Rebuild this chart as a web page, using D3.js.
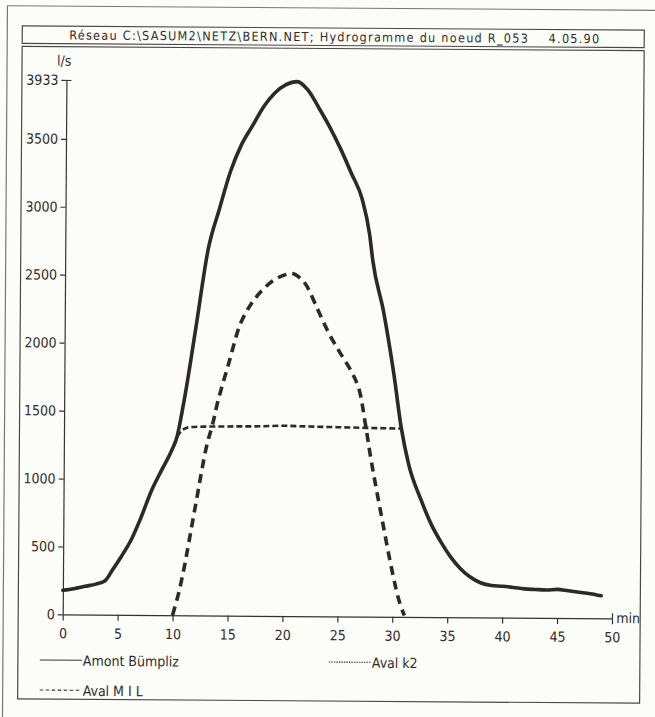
<!DOCTYPE html>
<html>
<head>
<meta charset="utf-8">
<script src="https://cdn.jsdelivr.net/npm/d3@7"></script>
<style>
  html, body { margin: 0; padding: 0; background: #fcfcf9; }
  svg { display: block; }
  text { font-family: "DejaVu Sans Condensed", "DejaVu Sans", sans-serif; fill: #2f2d2b; }
</style>
</head>
<body>
<svg id="chart"></svg>
<script>
// hydrogramme, values (minutes, l/s)
const amontBumpliz = [
  [0,178],[1,190],[2,208],[3,225],[3.8,248],[4.5,330],[5.3,430],[6.2,555],[7.1,725],
  [8,915],[8.9,1065],[9.8,1210],[10.3,1315],[10.7,1480],[11,1620],[12,2150],[13,2690],
  [14,2990],[15,3270],[16,3470],[17,3610],[18,3750],[19,3850],[20,3910],[21,3933],
  [22,3870],[23,3740],[24,3600],[25,3440],[26,3260],[27,3070],[27.7,2810],[28,2620],
  [29,2250],[30,1780],[30.7,1390],[31.4,1120],[32.5,870],[33.5,680],[34.4,550],
  [35.3,440],[36.2,355],[37,300],[38,255],[39,235],[40,230],[41,222],[42,212],[43,208],
  [44,205],[45,210],[46,200],[47,190],[48,180],[49,165]
];
const avalK2 = [
  [10.3,1315],[10.8,1365],[11.5,1385],[13,1390],[15,1392],[18,1395],[20,1400],
  [22,1396],[25,1392],[28,1388],[30.7,1385]
];
const avalMIL = [
  [10,0],[10.5,150],[11,340],[12,800],[13,1250],[13.5,1400],[14,1580],[15,1870],
  [16,2150],[17,2300],[18,2400],[19,2470],[20,2510],[20.7,2520],[21.5,2480],[22,2430],
  [23,2260],[24,2090],[25,1950],[26,1820],[26.8,1680],[27.4,1430],[28,1140],[29,720],
  [30,320],[30.6,120],[31.1,10]
];
const xTicks = [0,5,10,15,20,25,30,35,40,45,50];
const yTicks = [0,500,1000,1500,2000,2500,3000,3500];
const yMax = 3933;
const title = "Réseau C:\\SASUM2\\NETZ\\BERN.NET; Hydrogramme du noeud R_053    4.05.90";
const legendLabels = ["Amont Bümpliz", "Aval k2", "Aval M I L"];

const width = 655, height = 717;
const svg = d3.select("#chart").attr("width", width).attr("height", height);

svg.append("rect").attr("width", width).attr("height", height).attr("fill", "#fcfcf9");

// the scan is slightly tilted
const g = svg.append("g").attr("transform", "rotate(0.4, 327.5, 358.5)");

const frame = "#4a4846";
g.append("rect").attr("x", 5).attr("y", 8).attr("width", 680).attr("height", 740)
  .attr("fill", "none").attr("stroke", "#777").attr("stroke-width", 1.2);
g.append("rect").attr("x", 20).attr("y", 28).attr("width", 622).attr("height", 17.5)
  .attr("fill", "none").attr("stroke", frame).attr("stroke-width", 1.2);
g.append("rect").attr("x", 20).attr("y", 48.5).attr("width", 622).attr("height", 652.5)
  .attr("fill", "none").attr("stroke", frame).attr("stroke-width", 1.2);

g.append("text")
  .attr("x", 67).attr("y", 41.3)
  .attr("textLength", 530).attr("lengthAdjust", "spacing")
  .attr("xml:space", "preserve")
  .style("white-space", "pre")
  .style("font-size", "12.5px")
  .text(title);

const x = d3.scaleLinear().domain([0, 50]).range([64.5, 613.8]);
const y = d3.scaleLinear().domain([0, yMax]).range([616.3, 81.8]);

// x axis
const xAxis = g.append("g")
  .attr("transform", `translate(0, ${y(0)})`)
  .call(d3.axisBottom(x).tickValues(xTicks).tickSize(6).tickSizeOuter(0).tickPadding(8));
xAxis.select(".domain").attr("stroke", "#333").attr("stroke-width", 1.2);
xAxis.selectAll(".tick line").attr("stroke", "#333").attr("stroke-width", 1.2);
xAxis.selectAll(".tick text").style("font-size", "14px").attr("fill", "#2f2d2b")
  .style("font-family", "'DejaVu Sans Condensed', sans-serif");
xAxis.selectAll(".tick").filter(d => d === 50).append("line")
  .attr("y1", 0).attr("y2", -5).attr("stroke", "#333").attr("stroke-width", 1.2);

g.append("text").attr("x", 618).attr("y", 621).style("font-size", "14px").text("min");

// y axis
const yAxis = g.append("g")
  .attr("transform", `translate(${x(0)}, 0)`)
  .call(d3.axisLeft(y).tickValues(yTicks.concat([yMax])).tickFormat(d3.format("d"))
    .tickSize(5).tickSizeOuter(0).tickPadding(3));
yAxis.select(".domain").attr("stroke", "#333").attr("stroke-width", 1.2);
yAxis.selectAll(".tick line").attr("stroke", "#333").attr("stroke-width", 1.2);
yAxis.selectAll(".tick text").style("font-size", "14px").attr("fill", "#2f2d2b")
  .style("font-family", "'DejaVu Sans Condensed', sans-serif");
yAxis.selectAll(".tick").filter(d => d === yMax).select("line").attr("x1", 5);

g.append("text").attr("x", 55).attr("y", 67.5).style("font-size", "14px").text("l/s");

// curves
const line = d3.line()
  .x(d => x(d[0]))
  .y(d => y(d[1]))
  .curve(d3.curveMonotoneX);

const ink = "#2c2927";
g.append("path").datum(avalK2)
  .attr("d", line).attr("fill", "none").attr("stroke", ink)
  .attr("stroke-width", 2.6).attr("stroke-dasharray", "6,3");
g.append("path").datum(amontBumpliz)
  .attr("d", line).attr("fill", "none").attr("stroke", ink)
  .attr("stroke-width", 3.6).attr("stroke-linejoin", "round").attr("stroke-linecap", "round");
g.append("path").datum(avalMIL)
  .attr("d", d3.line().x(d => x(d[0])).y(d => y(d[1])).curve(d3.curveCatmullRom))
  .attr("fill", "none").attr("stroke", ink)
  .attr("stroke-width", 3.6).attr("stroke-dasharray", "9,6");

// legend
const legendPos = [[42, 662], [331, 662], [42, 692]];
const legendDash = [null, "1.5,1", "3.5,2.5"];
legendLabels.forEach((lab, i) => {
  const [lx, ly] = legendPos[i];
  g.append("line")
    .attr("x1", lx).attr("x2", lx + 42).attr("y1", ly).attr("y2", ly)
    .attr("stroke", "#333").attr("stroke-width", 1.1)
    .attr("stroke-dasharray", legendDash[i]);
  g.append("text").attr("x", lx + 43).attr("y", ly + 5.5)
    .style("font-size", "14px").text(lab);
});
</script>
</body>
</html>
